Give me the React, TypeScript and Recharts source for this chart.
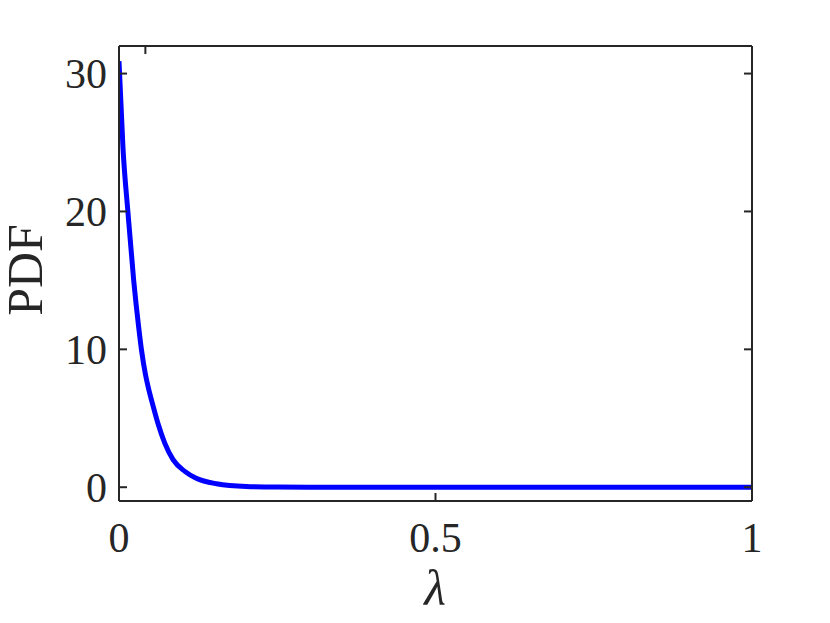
import { Line, LineChart, XAxis, YAxis } from 'recharts'

// values
const lambdaValues = [0, 0.0063, 0.0142, 0.0232, 0.0311, 0.0354, 0.0417, 0.0459, 0.0538, 0.0617, 0.0723, 0.0854, 0.104, 0.122, 0.154, 0.201, 0.25, 0.3, 0.4, 0.5, 0.6, 0.7, 0.8, 0.9, 1]
const pdfValues = [30.9, 24.6, 19.9, 15.0, 11.6, 10.0, 8.2, 7.3, 5.9, 4.6, 3.2, 2.0, 1.15, 0.65, 0.25, 0.05, 0.01, 0, 0, 0, 0, 0, 0, 0, 0]

const xTicks = [0, 0.5, 1]
const yTicks = [0, 10, 20, 30]

const axisColor = '#262626'
const serif = '"Liberation Serif", "Times New Roman", serif'

const data = lambdaValues.map((lambda, i) => ({ lambda, pdf: pdfValues[i] }))

type TickProps = { x?: number; y?: number; payload?: { value: number } }

function BottomTick({ x = 0, y = 0, payload }: TickProps) {
  return (
    <g>
      <line x1={x} x2={x} y1={y} y2={y - 8} stroke={axisColor} strokeWidth={2} />
      <text x={x} y={y + 51} textAnchor="middle" fontFamily={serif} fontSize={42} fill={axisColor}>
        {payload?.value}
      </text>
    </g>
  )
}

function TopTick({ x = 0, y = 0 }: TickProps) {
  return <line x1={x} x2={x} y1={y} y2={y + 8} stroke={axisColor} strokeWidth={2} />
}

function LeftTick({ x = 0, y = 0, payload }: TickProps) {
  return (
    <g>
      <line x1={x} x2={x + 8} y1={y} y2={y} stroke={axisColor} strokeWidth={2} />
      <text x={x - 12} y={y + 14.5} textAnchor="end" fontFamily={serif} fontSize={42} fill={axisColor}>
        {payload?.value}
      </text>
    </g>
  )
}

function RightTick({ x = 0, y = 0 }: TickProps) {
  return <line x1={x} x2={x - 8} y1={y} y2={y} stroke={axisColor} strokeWidth={2} />
}

export default function App() {
  return (
    <div style={{ position: 'absolute', left: 0, top: 0, width: 830, height: 623, background: '#fff' }}>
      <LineChart width={830} height={623} data={data} margin={{ top: 45, right: 77, bottom: 0, left: 0 }}>
        <XAxis
          xAxisId="x"
          dataKey="lambda"
          type="number"
          domain={[0, 1]}
          ticks={xTicks}
          allowDataOverflow
          height={122}
          tickSize={0}
          tickMargin={0}
          tickLine={false}
          axisLine={{ stroke: axisColor, strokeWidth: 2 }}
          tick={<BottomTick />}
        />
        <XAxis
          xAxisId="top"
          orientation="top"
          type="number"
          domain={[0, 1]}
          ticks={xTicks}
          allowDataOverflow
          height={1}
          tickSize={0}
          tickMargin={0}
          tickLine={false}
          axisLine={{ stroke: axisColor, strokeWidth: 2 }}
          tick={<TopTick />}
        />
        <YAxis
          yAxisId="y"
          type="number"
          domain={[-1, 32]}
          ticks={yTicks}
          allowDataOverflow
          width={119}
          tickSize={0}
          tickMargin={0}
          tickLine={false}
          axisLine={{ stroke: axisColor, strokeWidth: 2 }}
          tick={<LeftTick />}
        />
        <YAxis
          yAxisId="right"
          orientation="right"
          type="number"
          domain={[-1, 32]}
          ticks={yTicks}
          allowDataOverflow
          width={1}
          tickSize={0}
          tickMargin={0}
          tickLine={false}
          axisLine={{ stroke: axisColor, strokeWidth: 2 }}
          tick={<RightTick />}
        />
        <Line
          xAxisId="x"
          yAxisId="y"
          dataKey="pdf"
          type="monotone"
          stroke="#0000ff"
          strokeWidth={5}
          dot={false}
          isAnimationActive={false}
        />
        <text x={435} y={605} textAnchor="middle" fontFamily={serif} fontStyle="italic" fontSize={50} fill={axisColor}>
          λ
        </text>
        <text
          x={42}
          y={270}
          transform="rotate(-90, 42, 270)"
          textAnchor="middle"
          fontFamily={serif}
          fontSize={50}
          fill={axisColor}
        >
          PDF
        </text>
      </LineChart>
    </div>
  )
}
